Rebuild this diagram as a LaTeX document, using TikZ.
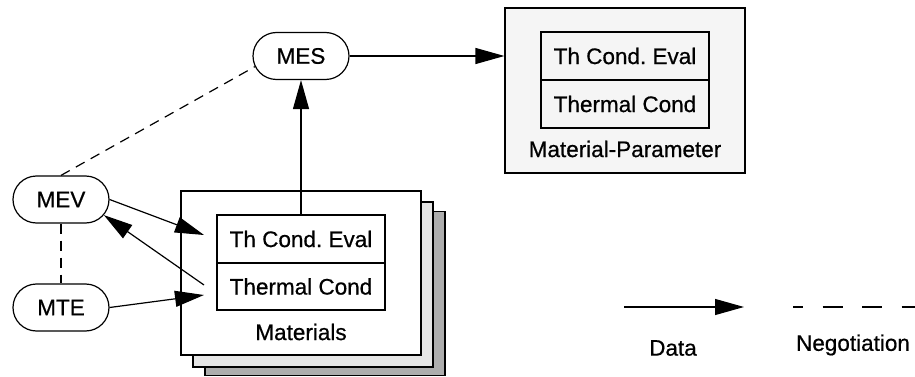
\documentclass[tikz,border=0pt]{standalone}
\usepackage{fontspec}
\setmainfont[FakeBold=0.6]{Liberation Sans}
\usetikzlibrary{shapes.misc,arrows.meta}
\frenchspacing
\begin{document}
\begin{tikzpicture}[x=1pt,y=-1pt,
  every node/.style={font=\fontsize{22.5}{26}\selectfont, inner sep=0pt},
  pill/.style={draw, line width=1.2pt, rounded rectangle, minimum width=96pt, minimum height=47pt},
  outerbox/.style={draw, line width=1.2pt, minimum width=240pt, minimum height=165pt},
  cell/.style={draw, line width=1.2pt, minimum width=168pt, minimum height=48pt},
  data/.style={line width=1.2pt, -{Triangle[length=29pt, width=16pt]}},
  nego/.style={line width=1.2pt, dash pattern=on 10pt off 7pt},
]
\useasboundingbox (0,0) rectangle (915,377);
% materials stack
\node[outerbox, fill=black!32, minimum height=164pt] (box3) at (325,293.5) {};
\node[outerbox, fill=black!10] (box2) at (313,284.5) {};
\node[outerbox, fill=white, minimum height=164pt] (matbox) at (301,273) {};
\node[cell] (eval1) at (301,239) {Th Cond.\ Eval};
\node[cell, minimum height=47pt] (cond1) at (301,286.5) {Thermal Cond};
\node (matlabel) at (301,332) {Materials};
% material parameter
\node[outerbox, fill=black!4] (mp) at (625,90.5) {};
\node[cell] (eval2) at (625,56) {Th Cond.\ Eval};
\node[cell] (cond2) at (625,104) {Thermal Cond};
\node (mplabel) at (625,149) {Material-Parameter};
% agents
\node[pill] (mes) at (301,56) {MES};
\node[pill] (mev) at (61,199.5) {MEV};
\node[pill] (mte) at (61,307.5) {MTE};
% connector ends
\coordinate (inA) at (204,235);
\coordinate (outB) at (204,285);
\coordinate (inC) at (204,295);
% connectors
\draw[data] (eval1.north) -- (mes.south);
\draw[data] (mes.east) -- (mes.east -| mp.west);
\draw[data] (mev.east) -- (inA);
\draw[data] (outB) -- (mev.-20);
\draw[data] (mte.east) -- (inC);
\draw[nego] (mev.north) -- (mes.193);
\draw[nego] (mev.south) -- (mte.north);
% legend
\coordinate (ldA) at (624,307);
\coordinate (ldB) at (744,307);
\coordinate (lnA) at (793,307);
\coordinate (lnB) at (915,307);
\draw[data] (ldA) -- (ldB);
\draw[line width=1.2pt, dash pattern=on 20pt off 19.5pt, dash phase=10pt] (lnA) -- (lnB);
\node (datalbl) at (673,348) {Data};
\node (negolbl) at (853,345) {Negotiation};
\end{tikzpicture}
\end{document}
